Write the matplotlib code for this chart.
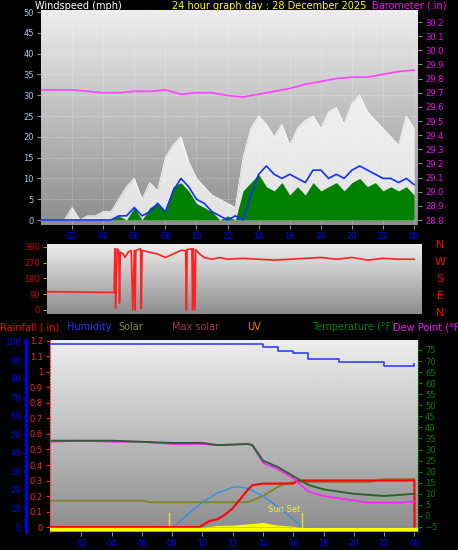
import numpy as np
import matplotlib
matplotlib.use("Agg")
import matplotlib.pyplot as plt

W, H = 458, 550
# ---------------- data ----------------
t_half = [i * 0.5 for i in range(49)]
gust = [0,0,0,0,3,0,1,1,2,2,5,8,10,5,9,7,15,18,20,14,10,8,6,5,4,3,15,22,25,23,20,23,18,22,24,25,22,26,27,23,28,30,26,24,22,20,18,25,22]
avg = [0,0,0,0,0,0,0,0,0,0,1,1,3,1,2,4,2,7,10,8,5,4,2,1,0,1,0,6,11,13,11,10,11,10,9,12,12,10,11,10,12,13,12,11,10,10,9,10,8.5]
speed = [0,0,0,0,0,0,0,0,0,0,1,0,3,0,3,4,2,8,9,7,4,3,2,0,1,0,7,9,11,8,7,9,6,8,6,9,7,8,9,7,9,10,8,9,7,8,7,8,6]
t_hour = list(range(25))
baro = [29.72,29.72,29.72,29.71,29.70,29.70,29.71,29.71,29.72,29.69,29.70,29.70,29.68,29.67,29.69,29.71,29.73,29.76,29.78,29.80,29.81,29.81,29.83,29.85,29.86]

t_dir = [0,4.7,4.75,4.8,4.9,5.0,5.05,5.1,5.3,5.4,5.6,5.8,5.9,6.0,6.05,6.1,6.4,6.45,6.5,7,7.5,8,8.5,9,9.3,9.35,9.4,9.7,9.75,9.8,9.9,9.95,10.0,10.2,10.5,11,11.5,12,13,14,15,16,17,18,19,20,21,22,23,24]
wdir = [105,100,350,10,350,340,40,330,320,300,330,340,0,340,0,340,350,10,340,330,320,300,320,340,340,0,345,350,0,350,0,345,340,320,300,290,300,290,295,290,285,290,295,300,290,300,285,295,290,290]

t_hum = [0,13.5,14,15,16,17,18,19,20,21,22,23,24]
humidity = [99,99,97,95,94,91,91,89,89,89,87,87,88]
t_temp = [0,2,4,6,8,10,11,13,13.3,14,15,16,17,18,19,20,21,22,23,24]
temp = [34,34,34,33.5,33,33,32,32.5,32,25,22,18,14,12,11,10,9.5,9,9.5,10]
dew = [33.5,34,33.5,33.5,32.5,32.5,32,32.5,32,24,21,17,11,9,8,7,6,6,6,6.5]
t_solar = [0,6,6.5,13,14,15,15.5,16,21,22,24]
solar = [0.17,0.17,0.16,0.16,0.20,0.26,0.28,0.29,0.29,0.31,0.31]
t_max = [8.1,9,10,11,12,12.3,13,14,15,16,16.6]
maxsolar = [0,0.08,0.16,0.22,0.255,0.26,0.25,0.2,0.13,0.05,0]
t_rain = [0,9.8,10.5,11,11.5,12,12.5,13,13.3,14,16,16.3,24,24.01]
rain = [0,0,0.04,0.05,0.08,0.12,0.18,0.24,0.27,0.28,0.28,0.30,0.30,0]
t_uv = [9.8,10.5,11,12,13,13.5,14,14.5,15,16,16.5]
uv = [0,0.005,0.01,0.012,0.02,0.025,0.03,0.02,0.012,0.005,0]
sunrise, sunset = 7.8, 16.6

# ---------------- figure ----------------
fig = plt.figure(figsize=(W/100, H/100), dpi=100, facecolor='black')
plt.rcParams['font.family'] = ['DejaVu Sans']

def ax_at(l, r, t, b):
    return fig.add_axes([l/W, 1-b/H, (r-l)/W, (b-t)/H])

grad = np.linspace(0.93, 0.55, 256).reshape(-1, 1)

def bg(ax):
    ax.imshow(grad, cmap='gray', vmin=0, vmax=1, aspect='auto',
              extent=[*ax.get_xlim(), *ax.get_ylim()], zorder=0)
    ax.set_facecolor('#b0b0b0')

def style(ax):
    for s in ax.spines.values():
        s.set_visible(False)
    ax.tick_params(colors='#9090a0', labelsize=6, length=3, pad=2)

hours = list(range(2, 25, 2))
hour_labels = ['%02d' % (h % 24) for h in hours]

# ---- top panel ----
ax1 = ax_at(41, 418, 10, 225)
ax1.set_xlim(0, 24.25); ax1.set_ylim(-1.2, 50.5)
bg(ax1); style(ax1)
ax1.grid(True, color='white', ls=':', lw=0.5, alpha=0.6)
ax1.fill_between(t_half, 0, gust, color='white', alpha=0.75, lw=0, zorder=2)
ax1.plot(t_half, gust, color='white', lw=0.6, zorder=2)
ax1.fill_between(t_half, 0, speed, color='#008000', lw=0, zorder=3)
ax1.plot(t_half, avg, color='#1030ff', lw=1.2, zorder=4)
ax1.set_yticks(range(0, 51, 5))
ax1.tick_params(axis='y', labelcolor='#a8c8e8', labelsize=6)
ax1.set_xticks(hours); ax1.set_xticklabels(hour_labels)
ax1.tick_params(axis='x', labelcolor='#0000ff', labelsize=6)
ax1b = ax1.twinx()
ax1b.set_ylim(28.765, 30.285)
style(ax1b)
ax1b.plot(t_hour, baro, color='#ff40ff', lw=1.2, zorder=5)
ax1b.set_yticks([round(28.8 + 0.1*i, 1) for i in range(15)])
ax1b.tick_params(axis='y', labelcolor='#ff00ff', labelsize=6)

fig.text(35/W, 1-1/H, 'Windspeed (mph)', color='white', fontsize=7, va='top')
fig.text(172/W, 1-1/H, '24 hour graph day : 28 December 2025', color='yellow', fontsize=7, va='top')
fig.text(372/W, 1-1/H, 'Barometer (.in)', color='#ff00ff', fontsize=7, va='top')

# ---- middle panel ----
ax2 = ax_at(47, 422, 244, 314)
ax2.set_xlim(0.386, 24.5); ax2.set_ylim(-23, 377)
bg(ax2); style(ax2)
ax2.plot(t_dir, wdir, color='#ff2020', lw=1.2, zorder=3)
ax2.set_yticks([0, 90, 180, 270, 360])
ax2.tick_params(axis='y', labelcolor='#cc0000', labelsize=6)
ax2.set_xticks([])
for i, c in enumerate('NWSEN'):
    fig.text(440/W, 1-(245+i*17)/H, c, color='red', fontsize=8, ha='center', va='center')

# ---- bottom panel ----
ax3 = ax_at(50, 418, 340, 532)
ax3.set_xlim(-0.066, 24.24); ax3.set_ylim(-0.032, 1.206)
bg(ax3); style(ax3)
ax3.spines['left'].set_visible(True); ax3.spines['left'].set_color('#ff4040')
ax3.spines['left'].set_linestyle(':')
ax3.set_yticks([round(0.1*i, 1) for i in range(13)])
ax3.set_yticklabels(['0'] + ['%g' % (0.1*i) for i in range(1, 13)])
ax3.tick_params(axis='y', labelcolor='#ff2020', colors='#ff2020', labelsize=6)
ax3.set_xticks(hours); ax3.set_xticklabels(hour_labels)
ax3.tick_params(axis='x', labelcolor='#0000ff', labelsize=6)
ax3.axhline(-0.015, color='yellow', lw=2.5, zorder=6)
ax3.plot(t_solar, solar, color='#808020', lw=1.2, zorder=3)
ax3.plot(t_max, maxsolar, color='#3090e0', lw=1, zorder=3)
ax3.plot([0, 24], [0, 0], color='#7070c0', lw=1, zorder=2)
ax3.fill_between(t_uv, 0, uv, color='yellow', lw=0, zorder=4)
ax3.plot(t_rain, rain, color='#ff0000', lw=1.5, zorder=5)
for s in (sunrise, sunset):
    ax3.plot([s, s], [0, 0.09], color='#e0e040', lw=1, zorder=4)
ax3.text(sunset - 0.1, 0.11, 'Sun Set', color='#f0f040', fontsize=6, ha='right', va='center', zorder=6)

ax3h = ax3.twinx()
ax3h.set_ylim(-2.7, 101)
style(ax3h)
ax3h.yaxis.tick_left(); ax3h.yaxis.set_label_position('left')
ax3h.spines['left'].set_visible(True)
ax3h.spines['left'].set_position(('outward', 17))
ax3h.spines['left'].set_color('#0000ff'); ax3h.spines['left'].set_linewidth(2)
ax3h.set_yticks(range(0, 101, 10))
ax3h.tick_params(axis='y', labelcolor='#0000ff', colors='#0000ff', labelsize=6, length=2, pad=2)
ax3h.step(t_hum, humidity, where='post', color='#3040ff', lw=1.2, zorder=5)

ax3t = ax3.twinx()
ax3t.set_ylim(-7.26, 79.5)
style(ax3t)
ax3t.spines['right'].set_visible(True); ax3t.spines['right'].set_color('#006000')
ax3t.spines['right'].set_linestyle(':')
ax3t.set_yticks(range(-5, 76, 5))
ax3t.tick_params(axis='y', labelcolor='#008000', colors='#008000', labelsize=6)
ax3t.plot(t_temp, dew, color='#ff20ff', lw=1.2, zorder=4)
ax3t.plot(t_temp, temp, color='#306030', lw=1.4, zorder=5)

leg = [('Rainfall (.in)', '#ff0000', 0), ('Humidity', '#3030ff', 67),
       ('Solar', '#909020', 118), ('Max solar', '#a03050', 172),
       ('UV', '#ff8000', 247), ('Temperature (°F)', '#008000', 312),
       ('Dew Point (°F', '#ff00ff', 393)]
for txt, c, x in leg:
    fig.text(x/W, 1-327/H, txt, color=c, fontsize=7, va='center')

fig.savefig('out.png', dpi=100, facecolor='black')
